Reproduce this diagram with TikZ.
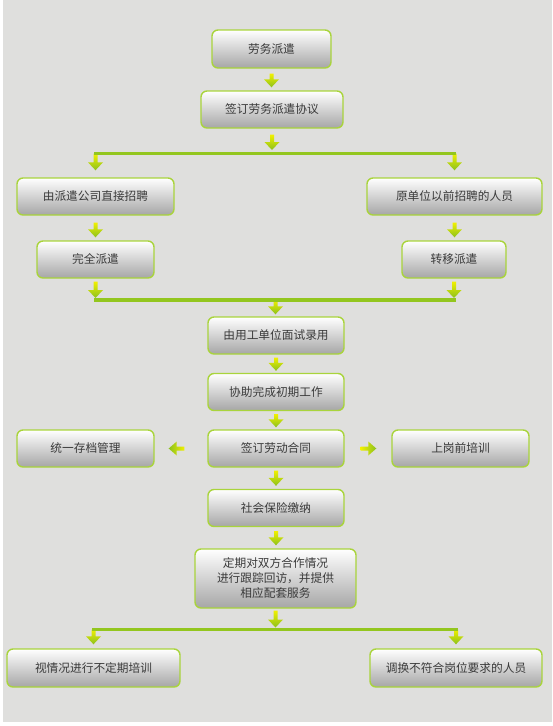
\documentclass[tikz,border=0pt]{standalone}
\usepackage{fontspec}
\newfontfamily\cjk{Noto Sans CJK SC}
\usetikzlibrary{calc}
\definecolor{bgc}{HTML}{DFDFDD}
\definecolor{bord}{HTML}{A9D43C}
\definecolor{boxbot}{HTML}{A6A6A6}
\definecolor{txt}{HTML}{3A3A3A}
\definecolor{ayel}{HTML}{F0F000}
\definecolor{agrn}{HTML}{8CC11E}
\definecolor{barc}{HTML}{93C61E}
\tikzset{
 fbox/.style={draw=bord, line width=1.4pt, rounded corners=6pt, top color=white, bottom color=boxbot, text=txt, font=\cjk\fontsize{11.7}{15}\selectfont, inner sep=0pt, align=center, minimum height=37pt},
 bar/.style={draw=barc, line width=3.6pt, line cap=rect},
 dshade/.style={top color=ayel, bottom color=agrn},
 lshade/.style={left color=agrn, right color=ayel},
 rshade/.style={left color=ayel, right color=agrn},
}
\newcommand\arrD[2]{\shade[dshade] let \p1=(#1), \p2=(#2) in (\x1-2pt,\y1) -- (\x1+2pt,\y1) -- (\x1+2pt,\y2+8pt) -- (\x1+7.5pt,\y2+8pt) -- (\x1,\y2) -- (\x1-7.5pt,\y2+8pt) -- (\x1-2pt,\y2+8pt) -- cycle;}
\newcommand\arrL[2]{\shade[lshade] let \p1=(#1), \p2=(#2) in (\x1,\y1-2pt) -- (\x2+8pt,\y1-2pt) -- (\x2+8pt,\y1-7pt) -- (\x2,\y1) -- (\x2+8pt,\y1+7pt) -- (\x2+8pt,\y1+2pt) -- (\x1,\y1+2pt) -- cycle;}
\newcommand\arrR[2]{\shade[rshade] let \p1=(#1), \p2=(#2) in (\x1,\y1-2pt) -- (\x2-8pt,\y1-2pt) -- (\x2-8pt,\y1-7pt) -- (\x2,\y1) -- (\x2-8pt,\y1+7pt) -- (\x2-8pt,\y1+2pt) -- (\x1,\y1+2pt) -- cycle;}
\begin{document}
\begin{tikzpicture}[x=1pt,y=-1pt]
\useasboundingbox (0,0) rectangle (552,726);
\fill[white] (0,0) rectangle (552,726);
\fill[bgc] (3,0) rectangle (552,722);

\node[fbox, minimum width=119pt, minimum height=38pt] (n1) at (271.5,49) {劳务派遣};
\node[fbox, minimum width=142pt] (n2) at (272,109.5) {签订劳务派遣协议};
\node[fbox, minimum width=157pt] (L1) at (95.5,196.5) {由派遣公司直接招聘};
\node[fbox, minimum width=175pt] (R1) at (454.5,196.5) {原单位以前招聘的人员};
\node[fbox, minimum width=117pt] (L2) at (95.5,259.5) {完全派遣};
\node[fbox, minimum width=104pt] (R2) at (454,259.5) {转移派遣};
\node[fbox, minimum width=136pt] (n3) at (276,335.5) {由用工单位面试录用};
\node[fbox, minimum width=136pt] (n4) at (276,392) {协助完成初期工作};
\node[fbox, minimum width=136pt] (n5) at (276,448.5) {签订劳动合同};
\node[fbox, minimum width=137pt] (SL) at (85.5,448.5) {统一存档管理};
\node[fbox, minimum width=137pt] (SR) at (460.5,448.5) {上岗前培训};
\node[fbox, minimum width=136pt] (n6) at (276,508) {社会保险缴纳};
\node[fbox, minimum width=161pt, minimum height=59pt] (n7) at (275.5,578.5) {定期对双方合作情况\\进行跟踪回访，并提供\\相应配套服务};
\node[fbox, minimum width=173pt, minimum height=38pt] (B1) at (93.5,668) {视情况进行不定期培训};
\node[fbox, minimum width=172pt, minimum height=38pt] (B2) at (456,668) {调换不符合岗位要求的人员};

\coordinate (j1) at (274,153.5);
\coordinate (j2) at (275.5,300);
\coordinate (j3) at (275.5,629.5);

\arrD{$(n1.south)+(0,5)$}{$(n2.north)+(0,-3)$}
\arrD{$(n2.south)+(0,6)$}{$(j1)+(0,-3.5)$}
\arrD{L1.north |- j1}{$(L1.north)+(0,-7)$}
\arrD{R1.north |- j1}{$(R1.north)+(0,-7)$}
\arrD{$(L1.south)+(0,7)$}{$(L2.north)+(0,-3)$}
\arrD{$(R1.south)+(0,7)$}{$(R2.north)+(0,-3)$}
\arrD{$(L2.south)+(0,3)$}{$(L2.south |- j2)+(0,-2)$}
\arrD{$(R2.south)+(0,3)$}{$(R2.south |- j2)+(0,-2)$}
\arrD{j2}{$(n3.north)+(0,-2)$}
\arrD{$(n3.south)+(0,3)$}{$(n4.north)+(0,-2)$}
\arrD{$(n4.south)+(0,3)$}{$(n5.north)+(0,-2)$}
\arrD{$(n5.south)+(0,3)$}{$(n6.north)+(0,-3)$}
\arrD{$(n6.south)+(0,4)$}{$(n7.north)+(0,-3)$}
\arrD{$(n7.south)+(0,2)$}{$(j3)+(0,-2)$}
\arrD{B1.north |- j3}{$(B1.north)+(0,-4)$}
\arrD{B2.north |- j3}{$(B2.north)+(0,-4)$}

\arrL{$(n5.west)+(-23,0)$}{$(SL.east)+(14,0)$}
\arrR{$(n5.east)+(16,0)$}{$(SR.west)+(-15,0)$}

\draw[bar] (L1.north |- j1) -- (R1.north |- j1);
\draw[bar] (L2.south |- j2) -- (R2.south |- j2);
\draw[bar] (B1.north |- j3) -- (B2.north |- j3);
\end{tikzpicture}
\end{document}
